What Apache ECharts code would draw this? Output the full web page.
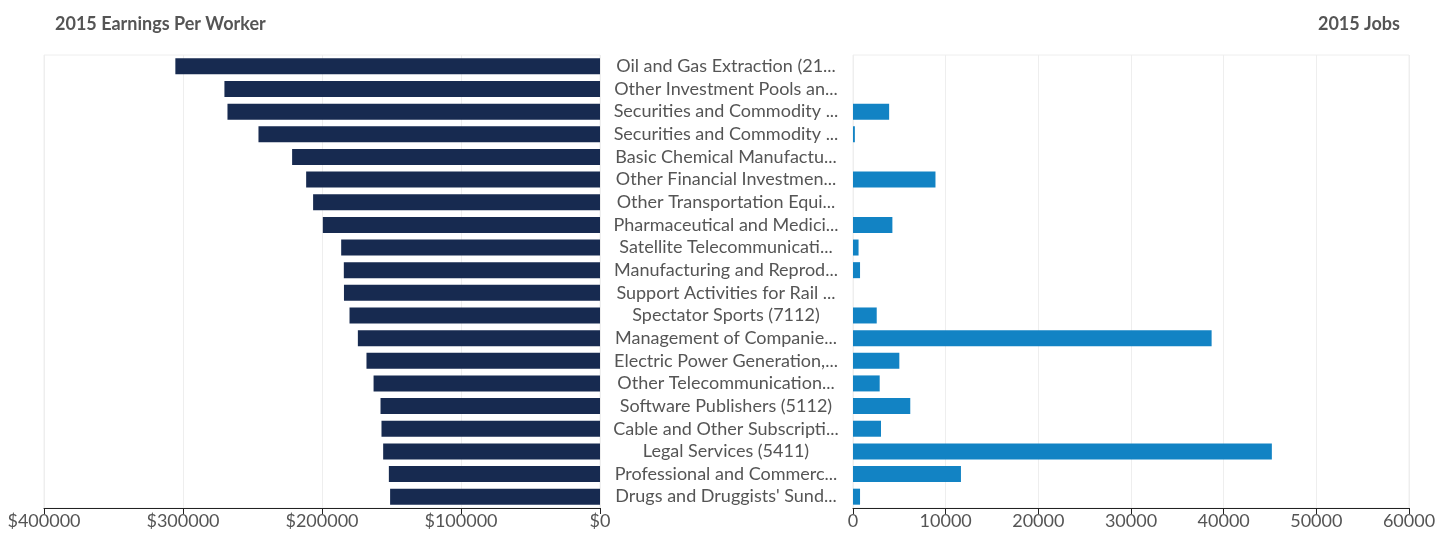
<!DOCTYPE html>
<html>
<head>
<meta charset="utf-8">
<script src="https://cdn.jsdelivr.net/npm/echarts@6/dist/echarts.min.js"></script>
<style>
  html, body { margin: 0; padding: 0; background: #fff; }
  #chart { width: 1440px; height: 537px; }
</style>
</head>
<body>
<div id="chart"></div>
<script>
// industries, top to bottom
const industries = [
    'Oil and Gas Extraction (21...',
    'Other Investment Pools an...',
    'Securities and Commodity ...',
    'Securities and Commodity ...',
    'Basic Chemical Manufactu...',
    'Other Financial Investmen...',
    'Other Transportation Equi...',
    'Pharmaceutical and Medici...',
    'Satellite Telecommunicati...',
    'Manufacturing and Reprod...',
    'Support Activities for Rail ...',
    'Spectator Sports (7112)',
    'Management of Companie...',
    'Electric Power Generation,...',
    'Other Telecommunication...',
    'Software Publishers (5112)',
    'Cable and Other Subscripti...',
    'Legal Services (5411)',
    'Professional and Commerc...',
    "Drugs and Druggists' Sund..."
];

const earnings = [305500, 270200, 268000, 245700, 221500, 211400, 206400, 199400, 186200, 184300,
    184200, 180200, 174200, 168000, 162900, 157900, 157200, 156000, 151900, 151000];

const jobs = [0, 0, 3900, 200, 0, 8900, 0, 4250, 600, 760,
    0, 2560, 38700, 5000, 2880, 6180, 3020, 45200, 11650, 760];

const earningsTicks = [0, 100000, 200000, 300000, 400000];
const jobsTicks = [0, 10000, 20000, 30000, 40000, 50000, 60000];

const labelColor = '#555';
const fontFamily = 'Lato, sans-serif';

let chart = echarts.init(document.getElementById('chart'));
chart.setOption({
    animation: false,
    textStyle: {fontFamily: fontFamily},
    title: [
        {
            text: '2015 Earnings Per Worker',
            left: 50,
            top: 10,
            textStyle: {fontSize: 18, fontWeight: 'bold', color: labelColor, fontFamily: fontFamily}
        },
        {
            text: '2015 Jobs',
            right: 35,
            top: 10,
            textStyle: {fontSize: 18, fontWeight: 'bold', color: labelColor, fontFamily: fontFamily}
        }
    ],
    grid: [
        {left: 44, right: 840, top: 55, bottom: 29, show: true, borderColor: '#eee', borderWidth: 1},
        {left: 853, right: 31, top: 55, bottom: 29, show: true, borderColor: '#eee', borderWidth: 1}
    ],
    xAxis: [
        {
            gridIndex: 0,
            type: 'value',
            inverse: true,
            min: earningsTicks[0],
            max: earningsTicks[earningsTicks.length - 1],
            interval: 100000,
            axisLine: {show: true, lineStyle: {color: '#222', width: 1}},
            axisTick: {show: true, length: 6, lineStyle: {color: '#222'}},
            axisLabel: {
                color: labelColor, fontSize: 18, margin: 4,
                formatter: function (v) { return '$' + v; }
            },
            splitLine: {show: true, lineStyle: {color: '#eee'}}
        },
        {
            gridIndex: 1,
            type: 'value',
            min: jobsTicks[0],
            max: jobsTicks[jobsTicks.length - 1],
            interval: 10000,
            axisLine: {show: true, lineStyle: {color: '#222', width: 1}},
            axisTick: {show: true, length: 6, lineStyle: {color: '#222'}},
            axisLabel: {
                color: labelColor, fontSize: 18, margin: 4,
                formatter: function (v) { return String(v); }
            },
            splitLine: {show: true, lineStyle: {color: '#eee'}}
        }
    ],
    yAxis: [
        {
            gridIndex: 0,
            type: 'category',
            inverse: true,
            data: industries,
            axisLine: {show: false},
            axisTick: {show: false},
            axisLabel: {show: false},
            splitLine: {show: false}
        },
        {
            gridIndex: 1,
            type: 'category',
            inverse: true,
            data: industries,
            axisLine: {show: false},
            axisTick: {show: false},
            axisLabel: {
                show: true,
                interval: 0,
                color: labelColor,
                fontSize: 18,
                align: 'center',
                margin: 127
            },
            splitLine: {show: false}
        }
    ],
    series: [
        {
            name: '2015 Earnings Per Worker',
            type: 'bar',
            xAxisIndex: 0,
            yAxisIndex: 0,
            barWidth: 16,
            itemStyle: {color: '#172a50'},
            data: earnings
        },
        {
            name: '2015 Jobs',
            type: 'bar',
            xAxisIndex: 1,
            yAxisIndex: 1,
            barWidth: 16,
            itemStyle: {color: '#1283c4'},
            data: jobs
        }
    ]
});
</script>
</body>
</html>
